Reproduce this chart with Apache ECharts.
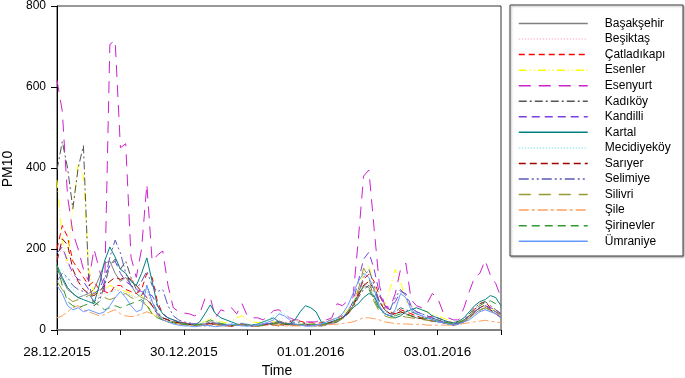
<!DOCTYPE html>
<html><head><meta charset="utf-8">
<script src="https://cdn.jsdelivr.net/npm/echarts@6/dist/echarts.min.js"></script>
<style>html,body{margin:0;padding:0;background:#fff;}#c{width:685px;height:378px;}</style>
</head><body><div id="c"></div>
<script>
// Values every 2 hours starting 28.12.2015 00:00 (85 points, 7 days)
const stationNames = ['Başakşehir','Beşiktaş','Çatladıkapı','Esenler','Esenyurt','Kadıköy','Kandilli','Kartal','Mecidiyeköy','Sarıyer','Selimiye','Silivri','Şile','Şirinevler','Ümraniye'];
const tickLabels = ['28.12.2015','','30.12.2015','','01.01.2016','','03.01.2016',''];

const basaksehir = [150,125,100,90,80,85,90,100,130,165,170,140, 120,130,110,90,80,75,60,40,30,25,20,18, 15,14,12,12,15,20,18,15,12,10,12,14, 12,10,10,12,15,18,22,18,14,12,12,10, 10,10,12,14,16,20,28,40,60,85,110,105, 80,55,40,35,40,45,40,35,30,28,25,22, 20,18,15,14,16,22,30,40,50,55,48,40, 32];
const besiktas = [180,200,160,130,115,100,95,90,85,90,95,100, 95,90,85,80,85,95,60,40,30,25,20,18, 15,15,12,14,18,22,18,15,12,12,14,15, 14,12,12,14,18,20,25,20,16,14,12,12, 12,12,14,16,18,22,30,45,65,90,115,110, 85,60,45,40,45,50,45,40,35,30,28,25, 22,20,18,15,18,22,30,38,45,50,45,40, 35];
const catladikapi = [200,258,230,170,150,130,110,120,100,95,90,110, 110,100,95,90,100,140,130,70,40,30,25,20, 18,15,15,12,12,15,15,12,12,10,12,12, 12,10,12,15,15,12,12,15,20,25,22,18, 18,16,18,22,25,30,35,45,60,90,125,138, 120,85,60,45,40,50,45,40,35,30,30,35, 30,25,20,18,20,25,35,50,65,70,55,45, 35];
const esenler = [370,220,170,300,410,380,150,95,90,100,110,105, 100,95,90,80,85,70,40,30,25,20,18,15, 15,12,15,18,20,30,25,20,18,22,30,35, 25,20,18,20,25,20,15,15,12,12,15,15, 15,12,15,20,25,30,40,50,70,100,140,160, 110,70,60,100,150,120,70,60,55,50,45,40, 35,30,25,20,20,25,35,45,55,60,55,45, 40];
const esenyurt = [617,540,330,240,200,150,120,200,150,95,705,715, 450,460,180,130,200,360,170,185,195,110,55,45, 42,40,35,40,78,80,30,50,45,55,40,65, 35,30,30,25,35,48,50,40,30,25,25,20, 20,20,25,25,30,65,60,72,80,222,380,395, 250,110,60,55,90,150,165,75,60,55,65,90, 80,45,30,25,25,55,95,130,140,172,135,115, 80];
const kadikoy = [395,465,400,300,400,455,120,60,70,110,160,175, 150,170,130,100,85,110,70,45,30,25,20,18, 15,15,12,12,10,12,15,12,10,10,12,15, 12,10,10,12,15,12,10,12,15,18,20,15, 12,10,10,12,15,20,30,40,55,80,100,110, 95,70,50,40,45,55,50,45,40,35,30,28, 25,20,15,12,15,25,40,55,65,70,60,50, 40];
const kandilli = [190,205,170,140,125,120,100,90,100,130,160,170, 140,120,110,100,95,90,85,60,40,30,25,20, 18,15,15,12,14,16,15,12,12,10,12,14, 12,12,10,12,15,15,18,15,12,12,12,12, 12,12,14,16,20,25,30,45,70,120,175,192, 150,90,60,50,70,95,90,60,45,40,35,30, 25,20,18,15,18,25,35,45,55,60,55,50, 40];
const kartal = [160,130,105,90,80,75,70,65,110,170,205,180, 150,140,120,110,140,178,120,60,40,30,25,20, 15,15,12,20,40,62,40,30,25,20,15,12, 10,12,15,20,25,30,20,15,15,25,45,60, 55,45,20,15,20,25,30,40,55,65,80,90, 85,55,40,35,30,35,45,50,55,50,45,35, 30,25,20,18,22,30,45,60,70,75,85,80, 60];
const mecidiyekoy = [140,150,120,100,90,85,80,75,70,80,90,100, 95,90,85,80,90,100,60,40,30,25,20,18, 15,15,14,15,20,25,20,18,15,14,15,18, 15,14,15,18,25,35,45,40,30,22,18,15, 15,14,16,18,22,28,35,50,70,95,115,110, 80,55,45,40,45,55,50,45,40,35,30,28, 25,22,18,16,18,24,32,42,50,55,50,45, 38];
const sariyer = [170,225,210,150,120,100,90,85,95,110,120,130, 125,130,125,110,95,80,60,40,30,25,20,18, 15,14,12,12,14,16,14,12,10,10,12,14, 12,10,10,12,14,16,18,15,12,12,12,12, 12,12,14,16,20,25,30,40,60,85,110,120, 100,70,50,40,40,45,40,35,30,28,25,22, 20,18,15,12,14,20,30,45,55,62,50,40, 30];
const selimiye = [120,140,130,110,100,95,90,70,80,120,180,222, 190,140,110,100,120,145,110,95,100,60,35,25, 20,18,15,14,15,18,16,14,12,12,14,15, 14,12,12,14,16,18,20,18,15,14,14,12, 12,12,14,16,20,25,30,40,60,90,130,150, 110,70,55,50,80,100,85,55,45,40,35,30, 25,22,18,15,18,24,35,45,55,60,52,45, 38];
const silivri = [120,100,80,70,75,80,85,90,85,80,75,80, 85,90,80,75,70,60,45,35,25,20,18,15, 14,12,12,12,14,16,14,12,10,10,12,12, 12,10,10,12,14,14,15,14,12,12,12,12, 12,12,14,16,18,22,28,35,60,100,153,130, 70,45,35,30,30,35,32,30,28,26,24,22, 20,18,15,14,16,22,30,40,48,55,50,45, 38];
const sile = [30,35,45,55,60,50,45,40,35,38,45,50, 40,35,33,35,40,45,40,30,25,20,18,15, 12,12,10,10,12,14,12,10,10,10,12,12, 12,10,10,10,12,12,12,10,10,10,10,12, 12,12,12,12,14,14,16,18,20,25,30,30, 28,25,20,18,16,15,15,14,14,14,12,12, 12,12,12,12,14,16,18,20,22,24,22,20, 18];
const sirinevler = [160,110,70,60,55,60,65,70,60,50,55,60, 55,60,65,70,75,60,40,30,25,20,18,15, 14,12,12,14,18,25,20,16,14,12,12,14, 12,12,10,12,14,16,18,16,14,14,14,14, 14,14,14,16,20,25,30,45,65,90,105,100, 75,50,40,35,35,40,38,35,32,30,28,25, 22,20,18,15,18,25,35,50,60,68,72,65, 55];
const umraniye = [110,90,60,50,55,45,50,45,40,45,60,80, 95,80,60,45,50,110,70,40,25,20,15,12, 10,10,8,10,12,10,8,10,12,15,12,10, 10,10,12,15,20,25,40,35,25,15,12,10, 10,12,15,20,25,30,40,60,90,120,140,130, 100,60,40,35,50,90,80,50,40,35,30,25, 20,18,15,12,15,20,25,35,45,50,45,40, 30];

const seriesValues = [basaksehir,besiktas,catladikapi,esenler,esenyurt,kadikoy,kandilli,kartal,mecidiyekoy,sariyer,selimiye,silivri,sile,sirinevler,umraniye];

// styles (kept apart from data)
const styles = [
  {color:'#808080', type:'solid'},
  {color:'#ffb0c4', type:[1,2]},
  {color:'#ff0000', type:[6,4]},
  {color:'#ffff00', type:[8,3,1,3,1,3]},
  {color:'#cc22cc', type:[12,8]},
  {color:'#555555', type:[8,3,2,3]},
  {color:'#7b3fe4', type:[8,5]},
  {color:'#008080', type:'solid'},
  {color:'#7fe8e8', type:[1,2]},
  {color:'#a00000', type:[7,4]},
  {color:'#5a5ab8', type:[10,3,2,3,2,3]},
  {color:'#999933', type:[12,8]},
  {color:'#ffa060', type:[10,3,3,3]},
  {color:'#339933', type:[8,5]},
  {color:'#6699ff', type:'solid'}
];
const STEP_HOURS = 2;
const FONT = 'Liberation Sans, Arial, sans-serif';

const series = stationNames.map((name, k) => ({
  name: name,
  type: 'line',
  symbol: 'none',
  showSymbol: false,
  animation: false,
  silent: true,
  data: seriesValues[k].map((v, i) => [i * STEP_HOURS, v]),
  lineStyle: {color: styles[k].color, width: 1, type: styles[k].type},
  itemStyle: {color: styles[k].color}
}));

const chart = echarts.init(document.getElementById('c'), null, {renderer: 'canvas'});
chart.setOption({
  backgroundColor: '#fff',
  animation: false,
  grid: {left: 57, top: 6, right: 184, bottom: 48, show: true, borderColor: '#333', borderWidth: 1},
  xAxis: {
    type: 'value', min: 0, max: 168, interval: 24,
    axisLine: {show: true, lineStyle: {color: '#808080', width: 2}},
    axisTick: {show: true, length: 5, lineStyle: {color: '#000'}},
    splitLine: {show: false},
    axisLabel: {fontSize: 13.5, fontFamily: FONT, color: '#000', margin: 15,
      formatter: v => tickLabels[Math.round(v / 24)] || ''}
  },
  yAxis: {
    type: 'value', min: 0, max: 800, interval: 200,
    axisLine: {show: true, lineStyle: {color: '#000', width: 1}},
    axisTick: {show: true, length: 6, lineStyle: {color: '#000'}},
    splitLine: {show: false},
    axisLabel: {fontSize: 12, fontFamily: FONT, color: '#000', margin: 11}
  },
  legend: {
    orient: 'vertical', left: 518, top: 17.5, padding: 0,
    itemWidth: 69, itemHeight: 10, itemGap: 3.55,
    selectedMode: false,
    data: stationNames.map((n, k) => ({name: n, lineStyle: {color: styles[k].color, width: 1.5, type: styles[k].type}})),
    itemStyle: {opacity: 0},
    textStyle: {fontSize: 12, fontFamily: FONT, color: '#000', lineHeight: 12, padding: [0,0,0,12]}
  },
  graphic: [
    {type: 'rect', z: -10, shape: {x: 510, y: 5, width: 173, height: 251},
      style: {fill: '#fff', stroke: '#444', lineWidth: 1, shadowColor: 'rgba(0,0,0,0.35)', shadowBlur: 2, shadowOffsetX: 1, shadowOffsetY: 1}},
    {type: 'text', x: 8, y: 169, rotation: Math.PI / 2,
      style: {text: 'PM10', fontSize: 14, fontFamily: FONT, fill: '#000', align: 'center', verticalAlign: 'middle'}},
    {type: 'text', x: 277, y: 371,
      style: {text: 'Time', fontSize: 14, fontFamily: FONT, fill: '#000', align: 'center', verticalAlign: 'middle'}}
  ],
  series: series
});
</script></body></html>
